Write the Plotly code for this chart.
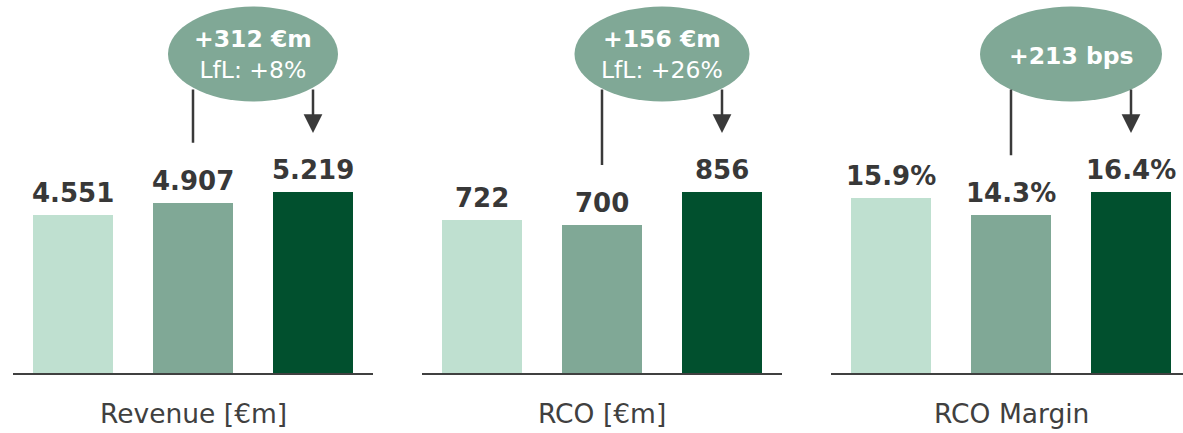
import plotly.graph_objects as go

# ---------------- data ----------------
periods = ["Period A", "Period B", "Period C"]
panel_titles = ["Revenue [€m]", "RCO [€m]", "RCO Margin"]
revenue = [4551, 4907, 5219]
rco = [722, 700, 856]
rco_margin = [15.9, 14.3, 16.4]
bubble_main = ["+312 €m", "+156 €m", "+213 bps"]
bubble_sub = ["LfL: +8%", "LfL: +26%", ""]

def fmt_thousands(v):
    return f"{v:,}".replace(",", ".")

def fmt_int(v):
    return f"{v}"

def fmt_pct(v):
    return f"{v:.1f}%"

series = [revenue, rco, rco_margin]
formatters = [fmt_thousands, fmt_int, fmt_pct]

# ---------------- style / layout ----------------
W, H = 1183, 433
bar_colors = ["#BFE0D0", "#80A896", "#01502E"]
bubble_color = "#80A896"
text_dark = "#383838"
line_color = "#3A3A3A"
base_px = 373          # baseline pixel (from top)
max_bar_px = 181       # height of tallest bar in px
cat_px = 120           # pixels per category
domains_px = [(13, 373), (422, 782), (831, 1183)]
bubble_w = [170, 175, 182]
bubble_h = 95
bubble_cy = 54
tail_px = 88

fig = go.Figure()

for i in range(3):
    xa = "x" if i == 0 else f"x{i+1}"
    ya = "y" if i == 0 else f"y{i+1}"
    vals = series[i]
    ytop = max(vals) * base_px / max_bar_px
    fig.add_trace(go.Bar(
        x=periods, y=vals, xaxis=xa, yaxis=ya,
        marker=dict(color=bar_colors, line=dict(width=0)),
        width=80 / cat_px, showlegend=False, hoverinfo="skip",
    ))
    d0, d1 = domains_px[i]
    xr_right = -0.5 + (d1 - d0) / cat_px
    axkey = "xaxis" if i == 0 else f"xaxis{i+1}"
    aykey = "yaxis" if i == 0 else f"yaxis{i+1}"
    fig.update_layout(**{
        axkey: dict(domain=[d0 / W, d1 / W], range=[-0.5, xr_right],
                    anchor=ya, showticklabels=False, ticks="",
                    showgrid=False, zeroline=False, showline=True,
                    linecolor="#404040", linewidth=2, fixedrange=True),
        aykey: dict(domain=[(H - base_px) / H, 1], range=[0, ytop],
                    anchor=xa, visible=False, showgrid=False, fixedrange=True),
    })

    # value labels
    for j, v in enumerate(vals):
        fig.add_annotation(x=j, y=v, xref=xa, yref=ya, text=f"<b>{formatters[i](v)}</b>",
                           showarrow=False, yanchor="bottom", yshift=5,
                           font=dict(family="DejaVu Sans", size=26, color=text_dark))

    # panel title
    fig.add_annotation(x=1, y=(H - 413) / H, xref=xa, yref="paper", text=panel_titles[i],
                       showarrow=False, yanchor="middle",
                       font=dict(family="DejaVu Sans", size=26.5, color="#404040"))

    # bubble
    cx = 1.5
    hw = bubble_w[i] / 2 / cat_px
    fig.add_shape(type="circle", xref=xa, yref="paper",
                  x0=cx - hw, x1=cx + hw,
                  y0=(H - (bubble_cy + bubble_h / 2)) / H,
                  y1=(H - (bubble_cy - bubble_h / 2)) / H,
                  fillcolor=bubble_color, line=dict(width=0), layer="above")
    if bubble_sub[i]:
        btxt = f"<b>{bubble_main[i]}</b><br>{bubble_sub[i]}"
        by = bubble_cy + 1
    else:
        btxt = f"<b>{bubble_main[i]}</b>"
        by = bubble_cy + 2
    fig.add_annotation(x=cx, y=(H - by) / H, xref=xa, yref="paper", text=btxt,
                       showarrow=False, yanchor="middle",
                       font=dict(family="DejaVu Sans", size=23.5, color="white"))

    # connector line from bar 2 and arrow to bar 3
    tail_y = ytop * (base_px - tail_px) / base_px
    fig.add_annotation(x=1, y=vals[1], xref=xa, yref=ya, ax=1, ay=tail_y,
                       axref=xa, ayref=ya, text="", showarrow=True,
                       arrowhead=0, arrowwidth=2.5, arrowcolor=line_color, standoff=60)
    fig.add_annotation(x=2, y=vals[2], xref=xa, yref=ya, ax=2, ay=tail_y,
                       axref=xa, ayref=ya, text="", showarrow=True,
                       arrowhead=2, arrowsize=1.5, arrowwidth=2.5,
                       arrowcolor=line_color, standoff=59)

fig.update_layout(
    width=W, height=H, autosize=False,
    margin=dict(l=0, r=0, t=0, b=0),
    paper_bgcolor="white", plot_bgcolor="white",
    bargap=0, showlegend=False,
)

fig.write_html("out.html", config={"displayModeBar": False},
               post_script="document.body.style.margin='0px';document.body.style.overflow='hidden';")
